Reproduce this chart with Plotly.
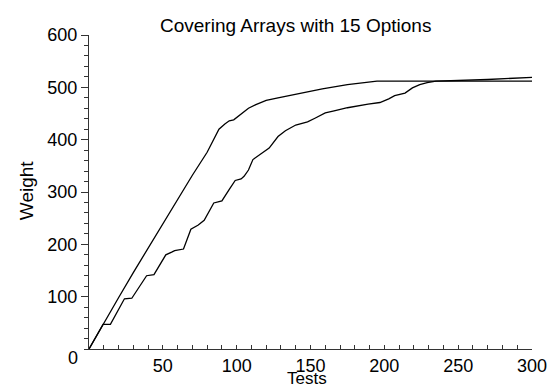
import plotly.graph_objects as go

# Upper curve (reaches plateau first)
upper_x = [0, 10, 20, 30, 40, 50, 60, 70, 80, 88, 92, 95, 98, 101, 104, 108, 113, 120, 128, 135, 142, 150, 158, 175, 190, 195, 250, 300]
upper_y = [0, 50, 98, 146, 193, 240, 286, 332, 376, 420, 430, 436, 438, 445, 452, 460, 467, 475, 480, 484, 487, 492, 497, 505, 511, 512, 512, 512]

# Lower curve (step-like growth)
lower_x = [0, 9.5, 14.5, 24, 29, 39, 44, 52, 56, 58, 64, 69, 74, 78, 84.5, 90, 95, 99, 103, 105, 108, 111, 117, 122, 128, 133, 140, 148, 153, 160, 166, 175, 189, 197, 203, 207, 214, 219, 224, 229, 235, 250, 270, 300]
lower_y = [0, 47, 47, 96, 97, 140, 142, 180, 185, 188, 191, 229, 237, 246, 279, 283, 305, 322, 325, 330, 342, 362, 374, 384, 406, 417, 428, 434, 441, 451, 455, 461, 468, 471, 478, 484, 489, 499, 505, 509, 512, 513, 515, 519]

title_text = "Covering Arrays with 15 Options"
x_title = "Tests"
y_title = "Weight"
x_ticks = [50, 100, 150, 200, 250, 300]
y_ticks = [100, 200, 300, 400, 500, 600]

FONT = "Liberation Sans, Arial, sans-serif"

fig = go.Figure()
fig.add_trace(go.Scatter(x=upper_x, y=upper_y, mode="lines",
                         line=dict(color="black", width=1.3), showlegend=False))
fig.add_trace(go.Scatter(x=lower_x, y=lower_y, mode="lines",
                         line=dict(color="black", width=1.3), showlegend=False))

# page body has an 8px margin, so the figure is 8px smaller with left/top margins shifted
fig.update_layout(
    width=551, height=381,
    margin=dict(l=81, r=23, t=27, b=40),
    paper_bgcolor="white", plot_bgcolor="white",
    font=dict(family=FONT, size=18, color="black"),
    xaxis=dict(range=[0, 300], tickvals=x_ticks, ticks="inside", ticklen=4,
               tickcolor="#333", showline=True, linecolor="#333", linewidth=1,
               showgrid=False, zeroline=False,
               minor=dict(dtick=10, tick0=0, ticks="inside", ticklen=4, tickcolor="#333"),
               tickfont=dict(size=18, family=FONT)),
    yaxis=dict(range=[0, 600], tickvals=y_ticks, ticks="outside", ticklen=7,
               tickcolor="#333", showline=True, linecolor="#333", linewidth=1,
               showgrid=False, zeroline=False,
               minor=dict(dtick=20, tick0=0, ticks="outside", ticklen=4, tickcolor="#333"),
               tickfont=dict(size=18, family=FONT)),
    annotations=[
        dict(text=title_text, xref="paper", yref="paper", x=0.4653, y=1.0287,
             xanchor="center", yanchor="middle", showarrow=False,
             font=dict(size=19, family=FONT)),
        dict(text=x_title, xref="paper", yref="paper", x=0.492, y=-0.1274,
             xanchor="center", yanchor="bottom", showarrow=False, borderpad=0,
             font=dict(size=17, family=FONT)),
        dict(text=y_title, xref="paper", yref="paper", x=-0.142, y=0.506,
             xanchor="center", yanchor="middle", showarrow=False, textangle=-90,
             font=dict(size=19, family=FONT)),
        dict(text="0", xref="paper", yref="paper", x=-0.0358, y=-0.0287,
             xanchor="center", yanchor="middle", showarrow=False,
             font=dict(size=18, family=FONT)),
    ],
)

fig.write_html("out.html")
